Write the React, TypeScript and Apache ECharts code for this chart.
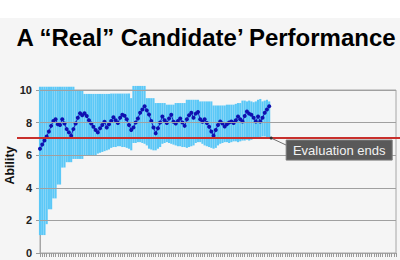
import React, { useEffect, useRef } from "react";
import * as echarts from "echarts";

const titleText = "A “Real” Candidate’ Performance";
const yAxisName = "Ability";
const calloutText = "Evaluation ends";
const totalItems = 161;
const cutScore = 7.05;
const yTicks = [2, 4, 6, 8, 10];

const ability = [
  6.40, 6.65, 6.90, 7.15, 7.45, 7.80, 8.10, 8.21, 7.90, 7.85,
  8.20, 7.95, 7.60, 7.40, 7.20, 7.60, 7.95, 8.30, 8.58, 8.45,
  8.58, 8.40, 8.15, 7.95, 7.75, 7.55, 7.40, 7.65, 7.85, 8.05,
  7.70, 7.90, 8.10, 8.33, 8.15, 7.97, 8.30, 8.48, 8.42, 8.20,
  7.85, 7.55, 7.70, 8.00, 8.25, 8.60, 8.80, 9.00, 8.75, 8.50,
  8.10, 7.70, 7.34, 7.65, 8.00, 8.37, 8.15, 7.97, 8.25, 8.48,
  8.05, 7.95, 8.10, 8.25, 8.00, 7.80, 8.20, 8.45, 8.60, 8.30,
  8.55, 8.65, 8.20, 8.05, 8.20, 7.97, 7.75, 7.45, 7.20, 7.55,
  7.85, 8.07, 7.95, 7.76, 7.90, 8.00, 8.07, 7.97, 8.15, 8.37,
  8.20, 8.07, 8.40, 8.68, 8.55, 8.48, 8.30, 8.07, 8.37, 8.07,
  8.30, 8.60, 8.80, 9.00,
];

const bandLow = [
  1.10, 1.10, 1.10, 1.77, 2.68, 2.68, 3.35, 3.35, 4.20, 4.20,
  5.24, 5.24, 5.57, 5.57, 5.57, 5.77, 5.77, 5.77, 5.77, 5.77,
  5.95, 5.95, 5.95, 5.95, 5.95, 5.95, 6.10, 6.15, 6.20, 6.25,
  6.30, 6.35, 6.45, 6.50, 6.50, 6.55, 6.55, 6.50, 6.50, 6.45,
  6.40, 6.30, 6.75, 6.75, 6.80, 6.80, 6.75, 6.70, 6.60, 6.40,
  6.35, 6.30, 6.30, 6.40, 6.50, 6.70, 6.75, 6.80, 6.75, 6.70,
  6.65, 6.60, 6.55, 6.55, 6.50, 6.50, 6.45, 6.50, 6.55, 6.60,
  6.75, 6.80, 6.80, 6.70, 6.60, 6.55, 6.50, 6.45, 6.40, 6.45,
  6.60, 6.70, 6.75, 6.80, 6.80, 6.75, 6.80, 6.85, 6.85, 6.80,
  6.85, 6.90, 6.90, 6.95, 6.90, 6.95, 7.00, 7.05, 7.00, 7.10,
  7.15, 7.15, 7.10, 7.10,
];

const bandHigh = [
  10.20, 10.20, 10.20, 10.20, 10.20, 10.20, 10.20, 10.20, 10.20, 10.20,
  10.20, 10.20, 10.20, 10.20, 10.20, 10.20, 10.00, 10.00, 10.00, 10.00,
  9.76, 9.76, 9.76, 9.76, 9.76, 9.76, 9.76, 9.76, 9.76, 9.76,
  9.76, 9.76, 9.78, 9.78, 9.78, 9.78, 9.78, 9.78, 9.78, 9.78,
  9.78, 9.50, 10.25, 10.25, 10.25, 10.25, 10.25, 10.25, 9.50, 9.50,
  9.50, 9.50, 9.20, 9.20, 9.20, 9.20, 9.20, 9.10, 9.10, 9.10,
  9.10, 9.20, 9.20, 9.20, 9.20, 9.20, 9.40, 9.40, 9.40, 9.40,
  9.40, 9.40, 9.30, 9.30, 9.30, 9.30, 9.30, 9.30, 9.05, 9.05,
  9.05, 9.05, 9.05, 9.05, 9.10, 9.10, 9.10, 9.10, 9.15, 9.20,
  9.20, 9.35, 9.35, 9.30, 9.35, 9.30, 9.25, 9.30, 9.40, 9.45,
  9.30, 9.35, 9.40, 9.30,
];

const FONT = "'Liberation Sans', Arial, sans-serif";

export default function App() {
  const ref = useRef<HTMLDivElement>(null);

  useEffect(() => {
    if (!ref.current) return;
    const chart = echarts.init(ref.current, null, { renderer: "svg" });
    const categories = Array.from({ length: totalItems }, (_, i) => String(i + 1));
    const bandSize = bandHigh.map((h, i) => +(h - bandLow[i]).toFixed(2));

    chart.setOption({
      animation: false,
      backgroundColor: "#f5f5f5",
      grid: {
        left: 40,
        right: 4,
        top: 90,
        bottom: 7,
        show: true,
        borderColor: "#a6a6a6",
        borderWidth: 1,
        backgroundColor: "transparent",
        containLabel: false,
        outerBoundsMode: "none",
      },
      xAxis: {
        type: "category",
        data: categories,
        boundaryGap: false,
        axisLine: { show: true, lineStyle: { color: "#a6a6a6" } },
        axisTick: { show: true, interval: 0, length: 4, lineStyle: { color: "#999" } },
        axisLabel: { show: false },
        splitLine: { show: false },
      },
      yAxis: {
        type: "value",
        min: 0,
        max: 10,
        interval: 2,
        axisLine: { show: true, lineStyle: { color: "#a6a6a6" } },
        axisTick: { show: true, length: 4, lineStyle: { color: "#999" } },
        axisLabel: { fontFamily: FONT, fontWeight: "bold", fontSize: 11, color: "#222", margin: 8 },
        splitLine: { show: false },
      },
      series: [
        {
          type: "bar",
          stack: "band",
          data: bandLow,
          itemStyle: { color: "transparent" },
          barCategoryGap: "4%",
          clip: false,
          silent: true,
          z: 3,
          markLine: {
            silent: true,
            symbol: "none",
            label: { show: false },
            lineStyle: { color: "#a0a0a0", width: 1, type: "solid" },
            data: yTicks.map((v) => ({ yAxis: v })),
          },
        },
        {
          type: "bar",
          stack: "band",
          data: bandSize,
          itemStyle: { color: "#5bc8f7" },
          barCategoryGap: "4%",
          clip: false,
          silent: true,
          z: 2,
        },
        {
          type: "line",
          data: ability,
          symbol: "circle",
          symbolSize: 4,
          showSymbol: true,
          showAllSymbol: true,
          itemStyle: { color: "#1010b0" },
          lineStyle: { color: "#2020c0", width: 1 },
          z: 4,
        },
      ],
    });

    const [tipX, lineY] = chart.convertToPixel({ xAxisIndex: 0, yAxisIndex: 0 }, [ability.length - 1, cutScore]) as number[];
    const ax = tipX + 2;
    const boxX = ax + 15;
    const boxY = lineY + 2;
    const midY = (chart.convertToPixel({ yAxisIndex: 0 }, 5) as number) - 6;

    chart.setOption({
      graphic: [
        { type: "rect", left: 0, top: 0, shape: { x: 0, y: 0, width: 400, height: 18 }, style: { fill: "#ffffff" }, silent: true, z: 0 },
        {
          type: "text",
          x: 206,
          y: 37,
          style: {
            text: titleText,
            fill: "#000",
            font: `bold 24px ${FONT}`,
            textAlign: "center",
            textVerticalAlign: "middle",
          },
          z: 10,
        },
        {
          type: "text",
          x: 10,
          y: midY,
          rotation: Math.PI / 2,
          style: {
            text: yAxisName,
            fill: "#111",
            font: `bold 12.5px ${FONT}`,
            textAlign: "center",
            textVerticalAlign: "middle",
          },
          z: 10,
        },
        {
          type: "line",
          shape: { x1: 17, y1: lineY, x2: 400, y2: lineY },
          style: { stroke: "#c8302c", lineWidth: 2 },
          z: 20,
        },
        {
          type: "line",
          shape: { x1: ax, y1: lineY, x2: boxX, y2: boxY + 5 },
          style: { stroke: "#707070", lineWidth: 1 },
          z: 21,
        },
        { type: "circle", shape: { cx: ax, cy: lineY, r: 1.5 }, style: { fill: "#333" }, z: 22 },
        {
          type: "rect",
          shape: { x: boxX, y: boxY, width: 106, height: 20 },
          style: { fill: "#595959", stroke: "#7a7a7a", lineWidth: 1 },
          z: 21,
        },
        {
          type: "text",
          x: boxX + 53,
          y: boxY + 10,
          style: {
            text: calloutText,
            fill: "#f2f2f2",
            font: `13px ${FONT}`,
            textAlign: "center",
            textVerticalAlign: "middle",
          },
          z: 22,
        },
      ],
    });

    return () => chart.dispose();
  }, []);

  return (
    <div
      ref={ref}
      style={{ position: "absolute", left: 0, top: 0, width: 400, height: 260 }}
    />
  );
}
